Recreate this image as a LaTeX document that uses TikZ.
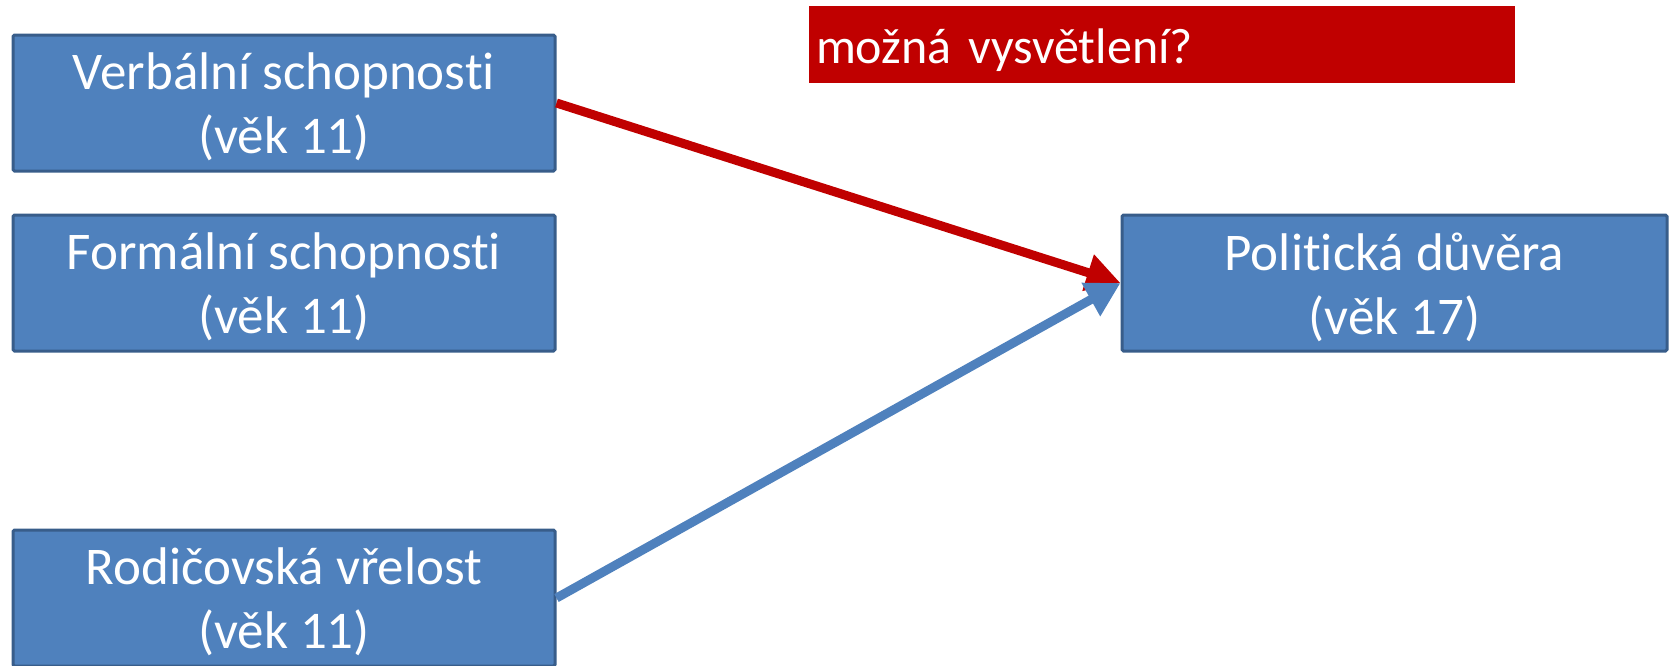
\documentclass[tikz,border=0pt]{standalone}
\usepackage{fontspec}
\setmainfont[Ligatures=NoCommon,RawFeature=-liga]{Carlito}
\usetikzlibrary{arrows.meta}
\definecolor{boxfill}{HTML}{4F81BD}
\definecolor{boxedge}{HTML}{385D8A}
\definecolor{darkred}{HTML}{C00000}
\newcommand{\lowr}[1]{\raisebox{-4pt}[\height][\depth]{#1}}
\tikzset{
  varbox/.style={draw=boxedge, fill=boxfill, line width=3pt, rounded corners=1.5pt,
    minimum width=542pt, minimum height=136pt, text=white, align=center,
    font=\fontsize{53}{64}\selectfont, inner sep=0pt},
  notebox/.style={fill=darkred, minimum width=706pt, minimum height=77pt, text=white,
    font=\fontsize{50}{60}\selectfont, inner sep=0pt, text width=692pt, align=left},
  redarrow/.style={draw=darkred, line width=9pt, -{Triangle[length=34pt,width=36pt]}},
  bluearrow/.style={draw=boxfill, line width=9pt, -{Triangle[length=34pt,width=36pt]}}
}
\begin{document}
\begin{tikzpicture}[x=1pt,y=-1pt]
\useasboundingbox (0,0) rectangle (1675,665);
\node[varbox] (verb) at (284,103) {\lowr{Verbální schopnosti}\\\lowr{(věk 11)}};
\node[varbox] (form) at (284,283) {\lowr{Formální schopnosti}\\\lowr{(věk 11)}};
\node[varbox] (rod) at (284,598) {\lowr{Rodičovská vřelost}\\\lowr{(věk 11)}};
\node[varbox, minimum width=545pt] (pol) at (1394.5,283) {\lowr{Politická důvěra}\\\lowr{(věk 17)}};
\node[notebox] (note) at (1162,44.5) {\raisebox{-6pt}[\height][\depth]{možná vysvětlení?}};
\draw[redarrow] (verb.east) -- (pol.west);
\draw[bluearrow] (rod.east) -- (pol.west);
\end{tikzpicture}
\end{document}
